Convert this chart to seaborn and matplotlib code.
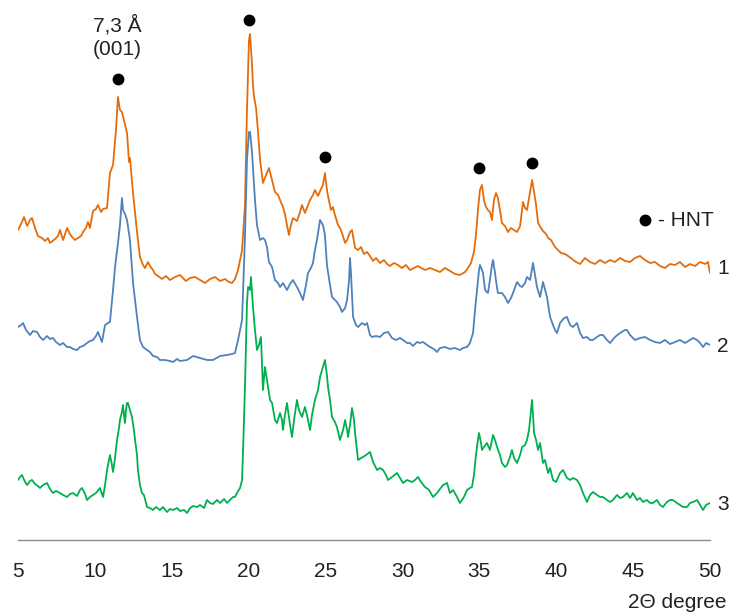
import matplotlib
matplotlib.use("Agg")
import matplotlib.pyplot as plt
import seaborn as sns
import pandas as pd

# ---------------- data (2-theta in degrees, intensity in arbitrary units, offset curves) -------------
theta_1 = [
    5.00, 5.26, 5.39, 5.59, 5.78, 5.91, 6.11, 6.30, 6.56, 6.76,
    6.95, 7.08, 7.41, 7.60, 7.73, 7.93, 8.19, 8.38, 8.51, 8.71,
    8.90, 9.10, 9.23, 9.42, 9.55, 9.68, 9.88, 10.07, 10.20, 10.40,
    10.53, 10.79, 10.98, 11.18, 11.37, 11.50, 11.63, 11.76, 11.96, 12.09,
    12.22, 12.28, 12.48, 12.74, 12.93, 13.13, 13.26, 13.45, 13.58, 13.78,
    13.91, 14.10, 14.36, 14.62, 14.88, 15.21, 15.53, 15.73, 15.92, 16.19,
    16.51, 16.84, 17.16, 17.49, 17.81, 18.14, 18.46, 18.72, 18.92, 19.11,
    19.31, 19.57, 19.76, 19.89, 20.02, 20.09, 20.22, 20.28, 20.35, 20.48,
    20.61, 20.74, 20.93, 21.13, 21.32, 21.52, 21.71, 21.91, 22.04, 22.23,
    22.36, 22.49, 22.62, 22.75, 22.88, 23.14, 23.34, 23.47, 23.66, 23.86,
    23.99, 24.18, 24.31, 24.51, 24.70, 24.83, 24.96, 25.09, 25.16, 25.35,
    25.48, 25.61, 25.81, 25.94, 26.07, 26.27, 26.40, 26.59, 26.72, 26.92,
    27.11, 27.31, 27.50, 27.70, 27.89, 28.09, 28.28, 28.54, 28.80, 29.00,
    29.19, 29.45, 29.71, 29.97, 30.23, 30.49, 30.75, 31.01, 31.21, 31.47,
    31.79, 32.12, 32.44, 32.77, 33.09, 33.42, 33.74, 34.07, 34.26, 34.46,
    34.65, 34.78, 34.91, 35.04, 35.17, 35.30, 35.43, 35.56, 35.69, 35.82,
    35.95, 36.08, 36.21, 36.34, 36.47, 36.67, 36.86, 37.06, 37.26, 37.45,
    37.65, 37.84, 37.97, 38.10, 38.30, 38.43, 38.56, 38.69, 38.82, 39.01,
    39.14, 39.34, 39.47, 39.66, 39.92, 40.12, 40.31, 40.57, 40.77, 41.03,
    41.29, 41.55, 41.87, 42.20, 42.52, 42.85, 43.17, 43.50, 43.82, 44.15,
    44.47, 44.80, 45.12, 45.45, 45.77, 46.10, 46.42, 46.75, 47.07, 47.40,
    47.72, 48.05, 48.38, 48.70, 49.03, 49.35, 49.68, 49.87, 50.00,
]
intensity_1 = [
    310, 318, 323, 314, 320, 322, 312, 304, 302, 299,
    302, 297, 301, 304, 310, 300, 312, 306, 303, 300,
    302, 304, 308, 312, 318, 312, 329, 331, 335, 328,
    331, 332, 367, 375, 410, 443, 430, 428, 415, 407,
    378, 382, 347, 308, 283, 275, 272, 278, 274, 270,
    266, 264, 261, 264, 260, 263, 265, 262, 259, 262,
    263, 260, 257, 261, 263, 259, 261, 258, 257, 261,
    270, 290, 335, 430, 500, 506, 475, 455, 443, 432,
    408, 380, 357, 365, 372, 360, 348, 345, 340, 333,
    326, 315, 305, 315, 322, 319, 328, 335, 327, 335,
    340, 345, 350, 344, 351, 355, 367, 350, 344, 330,
    333, 325, 315, 312, 307, 297, 300, 308, 310, 292,
    290, 293, 286, 288, 284, 279, 282, 277, 280, 276,
    274, 277, 275, 272, 275, 270, 272, 274, 272, 270,
    272, 270, 268, 272, 269, 266, 265, 268, 272, 277,
    288, 305, 330, 350, 355, 340, 333, 330, 328, 320,
    340, 347, 342, 330, 317, 314, 308, 312, 310, 308,
    314, 338, 332, 330, 348, 360, 348, 335, 317, 312,
    309, 306, 302, 300, 293, 290, 287, 286, 284, 281,
    278, 276, 282, 278, 276, 280, 277, 280, 278, 282,
    279, 278, 282, 284, 280, 277, 278, 274, 272, 276,
    275, 278, 273, 276, 274, 278, 276, 278, 267,
]

theta_2 = [
    5.00, 5.20, 5.33, 5.52, 5.78, 5.98, 6.24, 6.43, 6.63, 6.89,
    7.08, 7.28, 7.47, 7.73, 7.93, 8.19, 8.38, 8.58, 8.84, 9.03,
    9.23, 9.49, 9.68, 9.88, 10.07, 10.20, 10.33, 10.46, 10.66, 10.85,
    10.98, 11.18, 11.31, 11.50, 11.63, 11.76, 11.83, 11.96, 12.09, 12.28,
    12.48, 12.61, 12.74, 12.93, 13.13, 13.39, 13.58, 13.78, 14.04, 14.23,
    14.56, 14.88, 15.08, 15.34, 15.53, 15.99, 16.38, 16.84, 17.29, 17.68,
    18.14, 18.59, 18.92, 19.11, 19.31, 19.57, 19.76, 19.89, 20.02, 20.09,
    20.22, 20.41, 20.54, 20.74, 20.93, 21.06, 21.19, 21.32, 21.52, 21.71,
    21.91, 22.04, 22.23, 22.49, 22.69, 22.88, 23.14, 23.34, 23.53, 23.73,
    23.86, 24.05, 24.18, 24.31, 24.44, 24.64, 24.83, 24.96, 25.09, 25.29,
    25.42, 25.61, 25.74, 25.94, 26.07, 26.27, 26.40, 26.53, 26.59, 26.66,
    26.79, 26.98, 27.11, 27.37, 27.57, 27.70, 27.89, 28.02, 28.28, 28.54,
    28.80, 29.06, 29.32, 29.58, 29.84, 30.04, 30.30, 30.49, 30.69, 30.95,
    31.14, 31.34, 31.60, 31.79, 32.05, 32.25, 32.44, 32.77, 33.09, 33.42,
    33.74, 33.94, 34.20, 34.39, 34.59, 34.72, 34.85, 34.98, 35.04, 35.17,
    35.24, 35.37, 35.56, 35.69, 35.82, 35.89, 36.02, 36.15, 36.21, 36.47,
    36.67, 36.86, 37.06, 37.19, 37.45, 37.65, 37.78, 37.97, 38.10, 38.30,
    38.49, 38.62, 38.75, 38.95, 39.14, 39.40, 39.60, 39.79, 39.92, 40.05,
    40.25, 40.51, 40.70, 40.90, 41.09, 41.35, 41.55, 41.74, 42.00, 42.20,
    42.39, 42.65, 42.85, 43.04, 43.30, 43.50, 43.82, 44.15, 44.47, 44.60,
    44.80, 45.12, 45.45, 45.77, 46.10, 46.42, 46.75, 47.07, 47.40, 47.72,
    48.05, 48.38, 48.70, 48.90, 49.16, 49.35, 49.55, 49.74, 50.00,
]
intensity_2 = [
    213, 215, 217, 210, 205, 209, 208, 203, 200, 204,
    201, 202, 198, 195, 197, 193, 193, 191, 190, 193,
    194, 197, 199, 200, 204, 208, 203, 198, 215, 217,
    218, 250, 273, 297, 315, 342, 330, 326, 320, 300,
    257, 240, 223, 200, 193, 190, 188, 184, 183, 180,
    180, 179, 178, 181, 179, 180, 184, 182, 180, 180,
    184, 185, 186, 187, 200, 220, 303, 380, 408, 408,
    387, 340, 315, 300, 302, 300, 293, 278, 273, 260,
    257, 253, 257, 250, 256, 260, 253, 247, 240, 255,
    267, 272, 277, 290, 300, 320, 315, 305, 275, 255,
    243, 240, 238, 233, 228, 232, 240, 260, 282, 265,
    223, 215, 213, 217, 215, 217, 205, 203, 204, 203,
    207, 208, 202, 200, 202, 200, 197, 197, 194, 198,
    197, 198, 195, 193, 191, 188, 192, 193, 191, 192,
    190, 192, 193, 197, 207, 230, 250, 270, 275, 270,
    267, 250, 247, 260, 275, 280, 267, 252, 247, 247,
    243, 237, 242, 247, 258, 254, 253, 257, 263, 260,
    277, 265, 253, 243, 258, 243, 223, 215, 210, 207,
    217, 222, 223, 215, 213, 217, 207, 202, 203, 200,
    200, 203, 205, 205, 200, 197, 203, 207, 210, 210,
    205, 200, 202, 203, 200, 198, 197, 200, 196, 198,
    200, 197, 200, 202, 200, 197, 193, 197, 195,
]

theta_3 = [
    5.00, 5.13, 5.26, 5.46, 5.59, 5.78, 5.91, 6.11, 6.30, 6.43,
    6.63, 6.89, 7.08, 7.28, 7.47, 7.73, 7.93, 8.19, 8.38, 8.58,
    8.84, 9.03, 9.16, 9.36, 9.49, 9.68, 9.88, 10.07, 10.33, 10.53,
    10.66, 10.79, 10.92, 10.98, 11.11, 11.18, 11.31, 11.44, 11.57, 11.63,
    11.76, 11.83, 11.89, 11.96, 12.02, 12.09, 12.15, 12.28, 12.41, 12.54,
    12.61, 12.74, 12.80, 12.93, 13.06, 13.19, 13.39, 13.58, 13.78, 13.97,
    14.23, 14.43, 14.69, 14.88, 15.08, 15.34, 15.53, 15.80, 15.99, 16.19,
    16.38, 16.64, 16.84, 17.10, 17.29, 17.49, 17.68, 17.94, 18.14, 18.40,
    18.59, 18.79, 18.98, 19.11, 19.24, 19.44, 19.57, 19.63, 19.76, 19.89,
    19.96, 20.09, 20.15, 20.28, 20.41, 20.54, 20.67, 20.80, 20.93, 21.06,
    21.19, 21.39, 21.52, 21.71, 21.84, 22.04, 22.17, 22.23, 22.36, 22.49,
    22.69, 22.82, 22.95, 23.14, 23.27, 23.47, 23.66, 23.79, 23.99, 24.12,
    24.31, 24.51, 24.64, 24.77, 24.96, 25.09, 25.16, 25.29, 25.42, 25.61,
    25.74, 25.94, 26.14, 26.27, 26.40, 26.46, 26.59, 26.72, 26.85, 26.92,
    27.11, 27.31, 27.44, 27.63, 27.89, 28.09, 28.35, 28.54, 28.74, 28.93,
    29.06, 29.32, 29.65, 29.84, 30.04, 30.30, 30.62, 30.82, 31.01, 31.21,
    31.47, 31.73, 31.99, 32.25, 32.44, 32.64, 32.90, 33.09, 33.29, 33.55,
    33.74, 34.00, 34.20, 34.39, 34.52, 34.65, 34.78, 34.91, 34.98, 35.11,
    35.17, 35.30, 35.50, 35.69, 35.82, 35.89, 36.02, 36.15, 36.34, 36.47,
    36.67, 36.80, 36.99, 37.12, 37.26, 37.45, 37.65, 37.78, 37.97, 38.10,
    38.23, 38.30, 38.36, 38.43, 38.49, 38.56, 38.69, 38.82, 38.95, 39.14,
    39.27, 39.47, 39.60, 39.79, 39.99, 40.25, 40.44, 40.70, 40.90, 41.09,
    41.35, 41.55, 41.74, 42.00, 42.20, 42.39, 42.65, 42.85, 43.04, 43.30,
    43.50, 43.69, 43.95, 44.15, 44.34, 44.60, 44.80, 44.99, 45.25, 45.45,
    45.64, 45.90, 46.10, 46.29, 46.55, 46.75, 46.94, 47.20, 47.40, 47.59,
    47.85, 48.05, 48.25, 48.51, 48.70, 48.90, 49.16, 49.35, 49.55, 49.74, 50.00,
]
intensity_3 = [
    60, 63, 65, 58, 55, 59, 60, 56, 54, 52,
    55, 57, 51, 47, 49, 47, 45, 43, 46, 47,
    44, 50, 52, 46, 40, 43, 45, 47, 52, 43,
    55, 70, 80, 85, 75, 68, 82, 100, 112, 120,
    128, 135, 125, 117, 130, 137, 137, 130, 123, 110,
    100, 85, 70, 55, 47, 45, 33, 32, 30, 33,
    30, 33, 28, 31, 30, 32, 29, 30, 27, 32,
    34, 33, 35, 32, 40, 37, 36, 40, 37, 41,
    37, 40, 43, 43, 47, 52, 60, 87, 153, 237,
    253, 250, 263, 233, 210, 190, 195, 203, 150, 173,
    160, 140, 137, 120, 117, 127, 120, 110, 125, 137,
    115, 103, 120, 140, 130, 123, 133, 125, 110, 125,
    140, 150, 163, 170, 180, 165, 153, 140, 123, 118,
    113, 100, 110, 120, 110, 103, 115, 132, 120, 107,
    80, 82, 83, 85, 88, 78, 70, 72, 70, 65,
    60, 63, 67, 62, 57, 60, 58, 60, 63, 58,
    53, 50, 43, 47, 51, 55, 57, 47, 50, 43,
    37, 43, 50, 52, 53, 65, 85, 100, 107, 97,
    90, 93, 97, 90, 100, 105, 100, 93, 85, 77,
    73, 75, 83, 90, 82, 77, 85, 93, 95, 100,
    110, 120, 130, 140, 125, 107, 100, 90, 97, 77,
    80, 67, 72, 60, 58, 67, 70, 62, 60, 62,
    60, 55, 47, 38, 45, 48, 45, 43, 43, 40,
    38, 40, 45, 42, 43, 47, 42, 47, 40, 42,
    38, 40, 37, 37, 40, 35, 33, 38, 40, 40,
    37, 35, 33, 33, 37, 38, 40, 35, 30, 35, 37,
]

sample_labels = ["1", "2", "3"]
sample_colors = ["#E46C0A", "#4F81BD", "#00B050"]
label_levels = [272, 193, 35]

hnt_theta = [11.50, 20.02, 24.96, 34.98, 38.43]
hnt_marker_level = [461, 520, 383, 372, 377]

x_ticks = [5, 10, 15, 20, 25, 30, 35, 40, 45, 50]

# ---------------- figure ----------------
W, H = 731, 613
fig = plt.figure(figsize=(W / 100, H / 100), dpi=100)
sns.set_style("white")
plt.rcParams["font.family"] = ["Liberation Sans", "DejaVu Sans"]

ax = fig.add_axes([18 / W, 73 / H, 692 / W, 540 / H])

frames = []
for lab, th, it in zip(sample_labels,
                       [theta_1, theta_2, theta_3],
                       [intensity_1, intensity_2, intensity_3]):
    frames.append(pd.DataFrame({"theta": th, "intensity": it, "sample": lab}))
df = pd.concat(frames, ignore_index=True)

sns.lineplot(data=df, x="theta", y="intensity", hue="sample",
             palette=dict(zip(sample_labels, sample_colors)),
             estimator=None, sort=True, linewidth=1.3, legend=False, ax=ax)

# HNT markers
ax.plot(hnt_theta, hnt_marker_level, "o", color="black", ms=7.5, clip_on=False)

# annotation of the (001) reflection
ax.text(11.44, 503, "7,3 Å\n(001)", ha="center", va="center", fontsize=15,
        linespacing=1.25, color="#222222")

# legend-like note
ax.plot([45.77], [320], "o", color="black", ms=7.5, clip_on=False)
ax.text(46.6, 320, "- HNT", ha="left", va="center", fontsize=15, color="#222222")

# curve numbers
for lab, lev in zip(sample_labels, label_levels):
    ax.text(50.45, lev, lab, ha="left", va="center", fontsize=15,
            color="#222222", clip_on=False)

ax.set_xlim(5, 50)
ax.set_ylim(0, 540)
ax.set_xticks(x_ticks)
ax.set_xticklabels([str(t) for t in x_ticks], fontsize=15, color="#222222")
ax.set_yticks([])
ax.set_xlabel("")
ax.set_ylabel("")
for side in ["left", "right", "top"]:
    ax.spines[side].set_visible(False)
ax.spines["bottom"].set_color("#8C8C8C")
ax.spines["bottom"].set_linewidth(1.0)
ax.tick_params(axis="x", direction="out", length=5, width=1.0,
               color="#8C8C8C", pad=11)
ax.patch.set_alpha(0)

fig.text(727 / W, 1 - 602 / H, "2Θ degree", ha="right", va="center",
         fontsize=15, color="#222222")

fig.savefig("out.png", dpi=100, facecolor="white")
